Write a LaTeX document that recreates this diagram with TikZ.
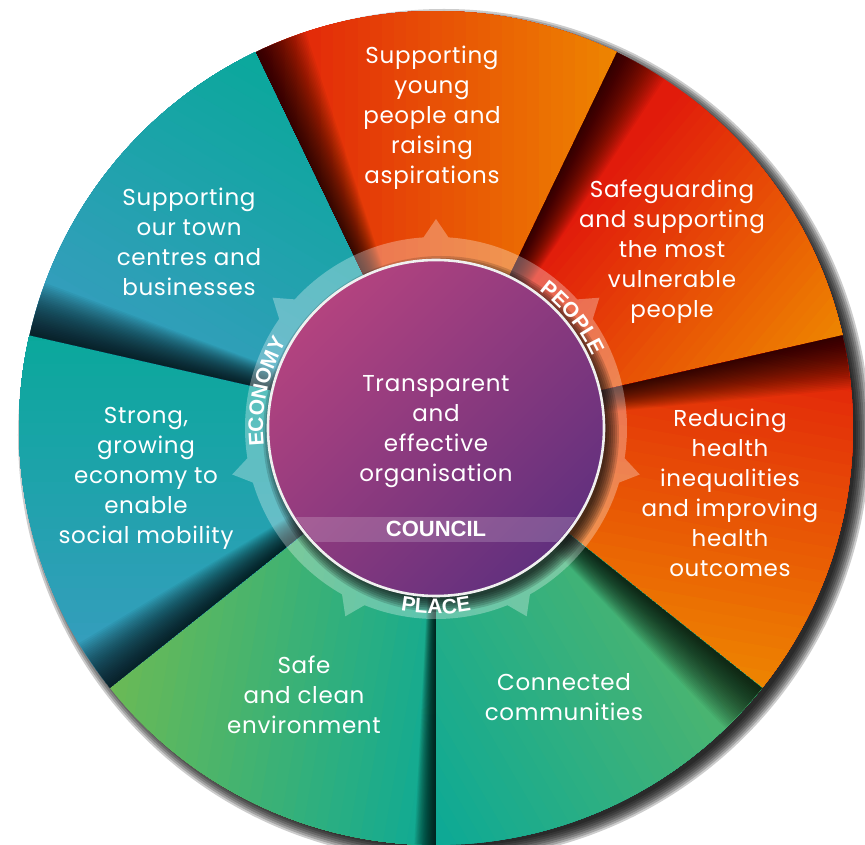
\documentclass[tikz,border=0pt]{standalone}
\usepackage{fontspec}
\setmainfont{Poppins}[LetterSpace=3]
\newfontfamily\lblfont{Liberation Sans}
\usetikzlibrary{decorations.text}
\definecolor{segRed}{HTML}{E11B0B}
\definecolor{segOrange}{HTML}{EE8600}
\definecolor{segTeal}{HTML}{0AA89B}
\definecolor{segBlue}{HTML}{3A9CC1}
\definecolor{segGreen}{HTML}{6BBA55}
\definecolor{conGreen}{HTML}{55B66A}
\definecolor{safeTeal}{HTML}{0CA996}
\definecolor{purpA}{HTML}{B3437F}
\definecolor{purpB}{HTML}{62307E}
\newcommand{\ringlbl}{\lblfont\bfseries\fontsize{21}{21}\selectfont}
% #1 high angle, #2 low angle, #3 colour at t0, #4 colour at t1, #5 gradient direction, #6 t0, #7 t1, #8 dark step
\newcommand{\wheelseg}[8]{%
  \begin{scope}
    \clip (0,0) -- (#1:417) arc (#1:#2:417) -- cycle;
    \begin{scope}[rotate=#5]
      \fill[#3] (-500,-500) rectangle (500,500);
      \foreach \i in {1,...,30} {
        \pgfmathsetmacro\stripx{#6+(#7-#6)*(\i-0.5)/30}
        \pgfmathtruncatemacro\mixp{100*\i/30}
        \fill[#4!\mixp!#3] (\stripx,-500) rectangle (500,500);
      }
    \end{scope}
    \begin{scope}[rotate=#1]
      \foreach \k in {1,...,30} {
        \pgfmathsetmacro\wedgeE{-\k*#8}
        \fill[black, opacity=0.045] (0,0) -- (0:420) arc (0:\wedgeE:420) -- cycle;
      }
    \end{scope}
  \end{scope}}
\begin{document}
\begin{tikzpicture}[x=1pt,y=1pt,
  seglbl/.style={text=white, align=center, font=\fontsize{23}{30}\selectfont, inner sep=0pt},
  ringtext/.style={decorate, decoration={text along path, text align=center, text color=white}}]
\useasboundingbox (-436,-417) rectangle (429,428);
% wheel drop shadow
\foreach \i in {0,...,7} {
  \pgfmathsetmacro\shr{412+2*\i}
  \fill[black, opacity=0.2] (8,-7) circle (\shr);
}
% segments
\wheelseg{115.714}{64.286}{segRed}{segOrange}{0}{-181}{181}{0.25}
\wheelseg{64.286}{12.857}{segRed}{segOrange}{-40}{-30}{251}{0.25}
\wheelseg{12.857}{-38.571}{segRed}{segOrange}{-100}{-162}{200}{0.25}
\wheelseg{-38.571}{-90}{safeTeal}{conGreen}{30}{-208}{152}{0.25}
\wheelseg{-90}{-141.429}{segGreen}{safeTeal}{-10}{-276}{72}{0.1}
\wheelseg{-141.429}{-192.857}{segBlue}{segTeal}{90}{-260}{93}{0.25}
\wheelseg{167.143}{115.714}{segBlue}{segTeal}{60}{-123}{235}{0.25}
% gear ring
\fill[white, opacity=0.3] (0,0) circle (191)
  \foreach \k [evaluate=\k as \a using 90-\k*360/7, evaluate=\k as \p using 90-\k*360/7-6, evaluate=\k as \q using 90-\k*360/7+6] in {0,...,6}
  { (\p:182) -- (\a:209) -- (\q:182) -- cycle };
% circle shadow
\foreach \i in {0,...,6} {
  \pgfmathsetmacro\shr{166+2*\i}
  \fill[black, opacity=0.15] (5,-6) circle (\shr);
}
% centre circle
\shade[top color=purpA, bottom color=purpB, shading angle=45] (0,0) circle (167);
\begin{scope}
  \clip (0,0) circle (166);
  \fill[white, opacity=0.18] (-170,-114) rectangle (170,-89);
\end{scope}
\draw[white!88!gray, line width=2.6] (0,0) circle (168);
% ring labels
\path[ringtext, decoration={text={|\ringlbl|ECONOMY}}] (200:173) arc (200:136:173);
\path[ringtext, decoration={text={|\ringlbl|PEOPLE}}] (69:172) arc (69:9:172);
\path[ringtext, decoration={text={|\ringlbl|PLACE}}] (-125:186) arc (-125:-55:186);
% texts
\node[seglbl] (young) at (-4,310) {Supporting\\young\\people and\\raising\\aspirations};
\node[seglbl] (safe1) at (236,176) {Safeguarding\\and supporting\\the most\\vulnerable\\people};
\node[seglbl] (health) at (294,-65) {Reducing\\health\\inequalities\\and improving\\health\\outcomes};
\node[seglbl] (conn) at (128,-269) {Connected\\communities};
\node[seglbl] (env) at (-132,-267) {Safe\\and clean\\environment};
\node[seglbl] (econ) at (-290,-50) {Strong,\\growing\\economy to\\enable\\social mobility};
\node[seglbl] (town) at (-247,186) {Supporting\\our town\\centres and\\businesses};
\node[seglbl] (org) at (0,-4) {Transparent\\and\\effective\\organisation};
\node[text=white, font=\ringlbl\fontsize{22}{22}\selectfont, inner sep=0pt] (council) at (0,-101) {COUNCIL};
\end{tikzpicture}
\end{document}
